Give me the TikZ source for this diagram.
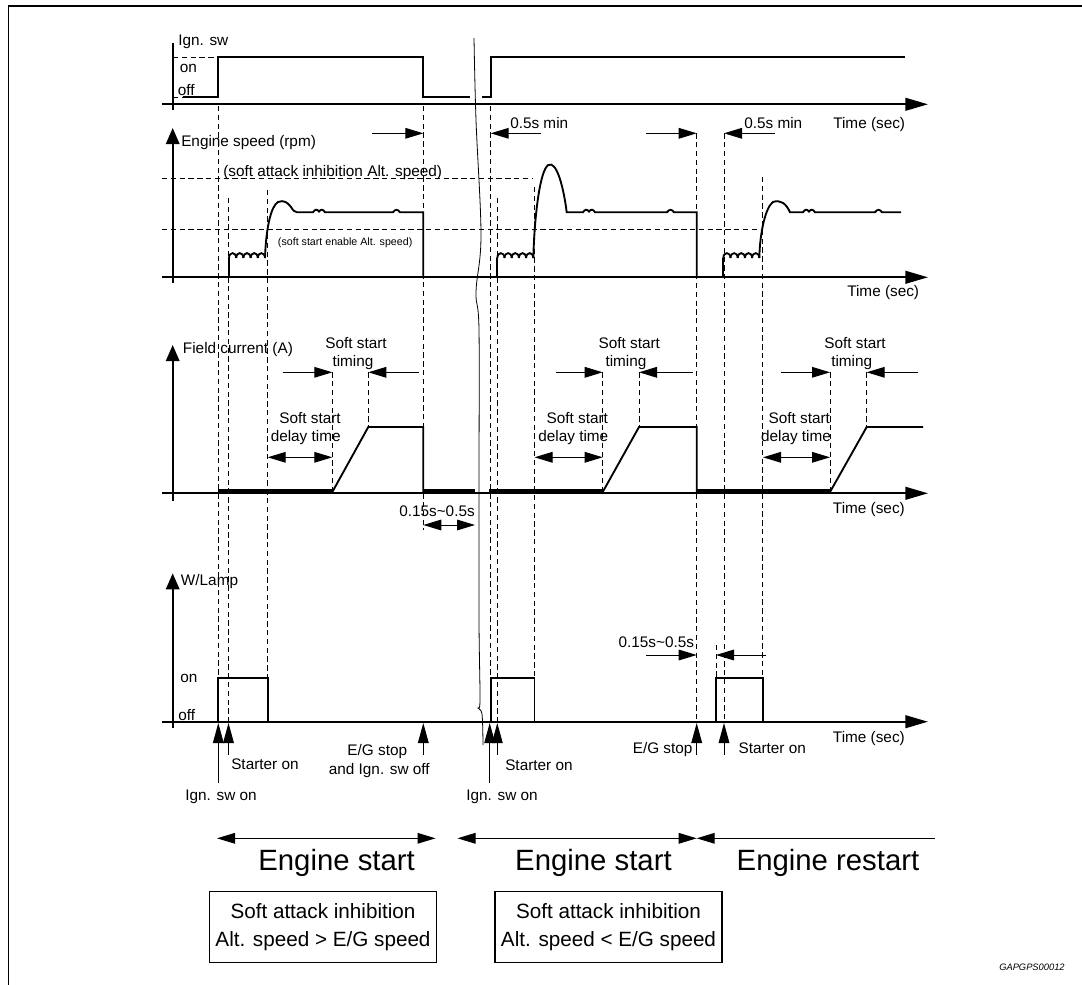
\documentclass[tikz,border=0pt]{standalone}
\usepackage{fontspec}
\setmainfont{Liberation Sans}
\usetikzlibrary{arrows.meta}
\begin{document}
\begin{tikzpicture}[x=0.75pt,y=-0.75pt,
  sig/.style={line width=1.4pt, line join=miter},
  axl/.style={line width=1.6pt},
  hax/.style={line width=1.6pt,-{Triangle[length=17pt,width=9.5pt]}},
  vax/.style={line width=1.6pt,-{Triangle[length=12pt,width=10pt]}},
  dsh/.style={line width=0.7pt, dash pattern=on 4pt off 2.6pt},
  dimr/.style={line width=0.75pt,-{Triangle[length=13.5pt,width=8pt]}},
  dimb/.style={line width=0.75pt,{Triangle[length=13.5pt,width=8pt]}-{Triangle[length=13.5pt,width=8pt]}},
  uparr/.style={line width=0.75pt,-{Triangle[length=15pt,width=8pt]}},
  thk/.style={line width=3pt},
  brk/.style={line width=0.6pt},
  lbl/.style={font=\fontsize{11.5}{13.8}\selectfont, inner sep=0pt},
  sml/.style={font=\fontsize{8}{9.6}\selectfont, inner sep=0pt},
  big/.style={font=\fontsize{22}{25}\selectfont, inner sep=0pt},
  boxt/.style={font=\fontsize{15.5}{21.5}\selectfont, draw, line width=1.1pt, align=center, minimum width=170pt, minimum height=53pt, inner sep=0pt},
]
\useasboundingbox (0,0) rectangle (1082,985);
% frame
\draw[line width=1.3pt, line join=miter] (8.6,985) -- (8.6,5.7) -- (1082,5.7);

% ---------- dashed guide lines ----------
\draw[dsh] (162,178.3) -- (531.7,178.3);
\draw[dsh] (162,229) -- (756.7,229);
\foreach \x/\a/\b in {218.3/106/678.3, 228.5/198/721.7, 267.7/190/678.3, 423.3/106/530,
  332.3/372.3/491, 368.3/372.3/427, 490.7/106/678.3, 497.3/198/721.7, 534.5/187/678.3,
  696.7/133.3/721.7, 724/133.3/721.7, 762.7/177/678.3, 602.7/372.3/491, 639/372.3/427,
  830/372.3/491, 866.7/372.3/427, 716/645/678.3}
  \draw[dsh] (\x,\a) -- (\x,\b);

% ---------- Ign. sw panel ----------
\draw[axl] (172.7,43) -- (172.7,110);
\draw[hax] (162,104.3) -- (928,104.3);
\draw[dsh] (173,57.3) -- (218.3,57.3);
\draw[dsh] (173,97.3) -- (183,97.3);
\draw[sig] (183,97.3) -- (218.3,97.3) -- (218.3,57.3) -- (423.3,57.3) -- (423.3,97.3) -- (470,97.3);
\draw[sig] (482,97.3) -- (490.7,97.3) -- (490.7,57.3) -- (905,57.3);
\node[lbl,anchor=west] (tign) at (178,42) {Ign. sw};
\node[lbl,anchor=west] (ton1) at (179.5,68) {on};
\node[lbl,anchor=west] (toff1) at (177.5,90) {off};
\node[lbl,anchor=west] (ttime1) at (833,125) {Time (sec)};

% ---------- Engine speed panel ----------
\draw[vax] (172.7,283) -- (172.7,128);
\draw[hax] (162,277.3) -- (928,277.3);
\node[lbl,anchor=west] (teng) at (181,143) {Engine speed (rpm)};
\node[lbl,anchor=west] (tinh) at (223,173) {(soft attack inhibition Alt. speed)};
\node[sml,anchor=west] (tena) at (277.7,243) {(soft start enable Alt. speed)};
\node[lbl,anchor=west] (ttime2) at (847,293) {Time (sec)};
\node[lbl,anchor=west] (t05a) at (510,122.7) {0.5s min};
\node[lbl,anchor=west] (t05b) at (744,122.7) {0.5s min};
\draw[dimr] (372.3,133.3) -- (423.3,133.3);
\draw[dimr] (541,133.3) -- (490.7,133.3);
\draw[dimr] (646,133.3) -- (696.7,133.3);
\draw[dimr] (775,133.3) -- (724,133.3);
% cranking ripples
\foreach \s in {229,497.3,723.3}{
  \draw[sig] (\s,277.3) -- (\s,258);
  \foreach \k in {0,...,4}
    \draw[sig] ({\s+7.2*\k},258) .. controls ({\s+7.2*\k+0.2},251.5) and ({\s+7.2*\k+7},251.5) .. ({\s+7.2*(\k+1)},258);
}
% trace 1
\draw[sig] (265,258) .. controls (266,228) and (271,206) .. (278,202)
  .. controls (284,199.5) and (288,203) .. (291,207) .. controls (293,210) and (294,212) .. (297,212.3)
  -- (313,212.3) .. controls (315,209) and (317,209) .. (319,211.5) .. controls (321,209) and (323,209) .. (325,212.3)
  -- (393,212.3) .. controls (395,209) and (398,209) .. (400,212.3)
  -- (423.3,212.3) -- (423.3,277.3);
% trace 2
\draw[sig] (533.3,258) .. controls (534.5,215) and (540,170) .. (548.3,165)
  .. controls (557,160) and (564,190) .. (566.7,212.3)
  -- (583,212.3) .. controls (585,209) and (587,209) .. (589,211.5) .. controls (591,209) and (593,209) .. (595,212.3)
  -- (667,212.3) .. controls (669,209) and (672,209) .. (674,212.3)
  -- (696.7,212.3) -- (696.7,277.3);
% trace 3
\draw[sig] (759.3,258) .. controls (760,230) and (766,207) .. (773,202)
  .. controls (780,199.5) and (786,203) .. (790,212.3)
  -- (803,212.3) .. controls (805,209) and (807,209) .. (809,211.5) .. controls (811,209) and (813,209) .. (815,212.3)
  -- (875,212.3) .. controls (877,209) and (880,209) .. (882,212.3)
  -- (901,212.3);

% ---------- Field current panel ----------
\draw[vax] (172.7,500.7) -- (172.7,345);
\draw[hax] (162,493.3) -- (928,493.3);
\node[lbl,anchor=west] (tfield) at (182.7,350) {Field current (A)};
\node[lbl,anchor=west] (ttime3) at (832.7,510) {Time (sec)};
\draw[thk] (218.3,491.3) -- (332.3,491.3);
\draw[thk] (423.3,491.3) -- (475,491.3);
\draw[thk] (489,491.3) -- (602.7,491.3);
\draw[thk] (696.7,491.3) -- (830,491.3);
\draw[sig] (332.3,492) -- (368.3,427) -- (423.3,427) -- (423.3,492);
\draw[sig] (602.7,492) -- (639,427) -- (696.7,427) -- (696.7,492);
\draw[sig] (830,492) -- (866.7,427) -- (923,427);
% labels and arrows
\foreach \n/\sx/\tx/\dx/\ddx in {a/356/353/310/305.7, b/629.3/626/577.3/573.3, c/855/851.7/799.3/796}{
  \node[lbl] (ss\n) at (\sx,343) {Soft start};
  \node[lbl] (tm\n) at (\tx,362.7) {timing};
  \node[lbl] (sd\n) at (\dx,417.7) {Soft start};
  \node[lbl] (dl\n) at (\ddx,437.7) {delay time};
}
\draw[dimr] (282.7,372.3) -- (332.3,372.3);
\draw[dimr] (419,372.3) -- (368.3,372.3);
\draw[dimb] (267.7,457.3) -- (332.3,457.3);
\draw[dimr] (555.7,372.3) -- (602.7,372.3);
\draw[dimr] (692.7,372.3) -- (639,372.3);
\draw[dimb] (534.5,457.3) -- (602.7,457.3);
\draw[dimr] (781,372.3) -- (830,372.3);
\draw[dimr] (918.3,372.3) -- (866.7,372.3);
\draw[dimb] (763,457.3) -- (830,457.3);
\node[lbl,anchor=west] (t015a) at (399,511.7) {0.15s\textasciitilde0.5s};
\draw[dimb] (423.3,525) -- (475,525);

% ---------- W/Lamp panel ----------
\draw[vax] (172.7,728) -- (172.7,573.3);
\draw[hax] (162,721.7) -- (928,721.7);
\node[lbl,anchor=west] (tlamp) at (180.7,581.7) {W/Lamp};
\node[lbl,anchor=west] (ton2) at (180,678) {on};
\node[lbl,anchor=west] (toff2) at (178,715) {off};
\node[lbl,anchor=west] (ttime4) at (832.7,739) {Time (sec)};
\draw[sig] (218.3,721.7) -- (218.3,678.3) -- (267.7,678.3) -- (267.7,721.7);
\draw[sig] (490.7,721.7) -- (490.7,678.3) -- (534.5,678.3) -- (534.5,721.7);
\draw[sig] (716,721.7) -- (716,678.3) -- (762.7,678.3) -- (762.7,721.7);
\draw[sig] (267.7,721.7) -- (490.7,721.7);
\node[lbl,anchor=west] (t015b) at (618.3,642.7) {0.15s\textasciitilde0.5s};
\draw[dimr] (646,655) -- (696.7,655);
\draw[dimr] (766,655) -- (716,655);
% event arrows
\draw[uparr] (218.3,783) -- (218.3,723);
\draw[uparr] (228.5,755) -- (228.5,723);
\draw[uparr] (423.3,755) -- (423.3,723);
\draw[uparr] (489.7,783) -- (489.7,723);
\draw[uparr] (497.3,755) -- (497.3,723);
\draw[uparr] (696.7,755) -- (696.7,723);
\draw[uparr] (724,755) -- (724,723);
\node[lbl] (tigon1) at (221,797) {Ign. sw on};
\node[lbl,anchor=west] (tst1) at (231,764.3) {Starter on};
\node[lbl] (tegs1) at (377.3,751.7) {E/G stop};
\node[lbl] (tegs1b) at (379.3,770.7) {and Ign. sw off};
\node[lbl] (tigon2) at (502,797) {Ign. sw on};
\node[lbl,anchor=west] (tst2) at (505,765) {Starter on};
\node[lbl,anchor=east] (tegs2) at (692.7,750) {E/G stop};
\node[lbl,anchor=west] (tst3) at (738.3,748.3) {Starter on};

% ---------- break line ----------
\draw[brk] plot[smooth, tension=0.6] coordinates {(474,38) (476,120) (481,235) (476,292) (479,330) (479,480) (479,620) (480,700) (478,708) (482,714) (483,745)};

% ---------- phases ----------
\draw[dimb] (217,838.3) -- (435.5,838.3);
\draw[dimb] (457.5,838.3) -- (696.7,838.3);
\draw[line width=0.75pt,{Triangle[length=13.5pt,width=8pt]}-] (696.7,838.3) -- (935,838.3);
\node[big] (ph1) at (336.6,863.3) {Engine start};
\node[big] (ph2) at (593.5,863.3) {Engine start};
\node[big] (ph3) at (828,863.3) {Engine restart};
\node[boxt] (box1) at (323,927) {Soft attack inhibition\\Alt. speed > E/G speed};
\node[boxt] (box2) at (608.5,927) {Soft attack inhibition\\Alt. speed < E/G speed};
\node[font=\fontsize{7}{8}\selectfont\itshape, anchor=west, inner sep=0pt] (code) at (999,967.3) {GAPGPS00012};
\end{tikzpicture}
\end{document}
